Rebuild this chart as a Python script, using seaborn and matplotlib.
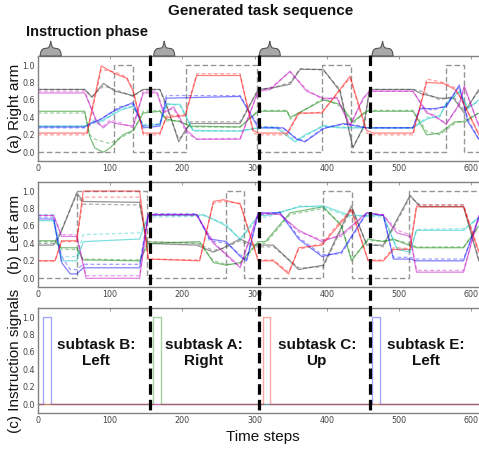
import numpy as np
import matplotlib
matplotlib.use("Agg")
import matplotlib.pyplot as plt
from matplotlib.path import Path
from matplotlib.patches import PathPatch
from matplotlib.transforms import Affine2D, blended_transform_factory
import seaborn as sns

# ---------------- data ----------------
# Panel (a) right arm: solid = output, dashed = target (same x keypoints)
K_A_X = [0, 65, 75, 91, 107, 132, 146, 169, 178, 195, 204, 211, 280, 305, 326, 349, 363, 395, 418, 436, 451, 459, 519, 531, 556, 575, 590, 610]
K_A_Y = [0.72, 0.72, 0.63, 0.79, 0.70, 0.65, 0.72, 0.72, 0.55, 0.12, 0.25, 0.33, 0.33, 0.72, 0.74, 0.78, 0.95, 0.95, 0.70, 0.05, 0.30, 0.72, 0.72, 0.67, 0.62, 0.62, 0.45, 0.72]
K_A_YT = [0.72, 0.72, 0.64, 0.76, 0.72, 0.64, 0.72, 0.72, 0.52, 0.15, 0.22, 0.35, 0.35, 0.72, 0.74, 0.80, 0.96, 0.94, 0.72, 0.06, 0.28, 0.72, 0.72, 0.70, 0.60, 0.64, 0.48, 0.70]

R_A_X = [0, 68, 88, 107, 123, 132, 146, 169, 178, 204, 220, 280, 298, 305, 345, 361, 393, 432, 455, 464, 519, 538, 561, 577, 586, 610]
R_A_Y = [0.22, 0.22, 0.99, 0.90, 0.85, 0.70, 0.22, 0.22, 0.40, 0.42, 0.88, 0.88, 0.25, 0.22, 0.22, 0.45, 0.45, 0.87, 0.25, 0.22, 0.22, 0.80, 0.79, 0.72, 0.62, 0.20]
R_A_YT = [0.20, 0.20, 0.95, 0.92, 0.86, 0.72, 0.20, 0.20, 0.42, 0.43, 0.90, 0.90, 0.22, 0.20, 0.20, 0.44, 0.46, 0.85, 0.22, 0.20, 0.20, 0.84, 0.80, 0.74, 0.60, 0.22]

G_A_X = [0, 65, 72, 79, 91, 100, 118, 132, 146, 169, 178, 197, 211, 280, 305, 345, 349, 395, 418, 436, 455, 519, 538, 556, 577, 591, 610]
G_A_Y = [0.47, 0.47, 0.18, 0.05, 0.0, 0.05, 0.20, 0.25, 0.45, 0.47, 0.38, 0.35, 0.30, 0.29, 0.47, 0.47, 0.40, 0.60, 0.55, 0.35, 0.47, 0.47, 0.20, 0.22, 0.35, 0.35, 0.45]
G_A_YT = [0.45, 0.45, 0.20, 0.15, 0.12, 0.10, 0.18, 0.24, 0.47, 0.48, 0.36, 0.36, 0.29, 0.29, 0.48, 0.48, 0.38, 0.62, 0.53, 0.33, 0.48, 0.48, 0.24, 0.20, 0.33, 0.37, 0.45]

B_A_X = [0, 65, 77, 86, 100, 112, 132, 146, 169, 178, 280, 305, 340, 358, 370, 395, 423, 441, 455, 519, 529, 547, 565, 583, 595, 610]
B_A_Y = [0.29, 0.29, 0.35, 0.37, 0.45, 0.50, 0.57, 0.28, 0.30, 0.62, 0.64, 0.28, 0.28, 0.15, 0.12, 0.27, 0.33, 0.30, 0.28, 0.28, 0.50, 0.50, 0.52, 0.77, 0.35, 0.15]
B_A_YT = [0.28, 0.28, 0.33, 0.38, 0.44, 0.52, 0.55, 0.30, 0.32, 0.65, 0.65, 0.30, 0.27, 0.16, 0.13, 0.28, 0.32, 0.31, 0.28, 0.28, 0.52, 0.48, 0.54, 0.75, 0.38, 0.15]

C_A_X = [0, 65, 80, 86, 114, 132, 146, 169, 178, 197, 215, 280, 305, 330, 356, 370, 395, 418, 455, 519, 538, 556, 565, 583, 595, 610]
C_A_Y = [0.30, 0.30, 0.35, 0.35, 0.48, 0.53, 0.30, 0.32, 0.55, 0.55, 0.25, 0.24, 0.28, 0.28, 0.12, 0.20, 0.30, 0.28, 0.28, 0.28, 0.38, 0.42, 0.55, 0.70, 0.50, 0.60]
C_A_YT = [0.30, 0.30, 0.38, 0.33, 0.50, 0.52, 0.32, 0.33, 0.56, 0.53, 0.24, 0.25, 0.28, 0.30, 0.14, 0.18, 0.31, 0.29, 0.28, 0.28, 0.40, 0.40, 0.57, 0.68, 0.52, 0.58]

M_A_X = [0, 65, 82, 91, 100, 114, 132, 146, 165, 174, 188, 206, 220, 280, 305, 322, 349, 372, 395, 414, 432, 450, 459, 519, 538, 547, 565, 583, 590, 610]
M_A_Y = [0.68, 0.68, 0.35, 0.28, 0.35, 0.32, 0.30, 0.68, 0.68, 0.45, 0.52, 0.25, 0.15, 0.15, 0.70, 0.72, 0.93, 0.70, 0.62, 0.62, 0.30, 0.62, 0.70, 0.70, 0.45, 0.43, 0.32, 0.55, 0.76, 0.30]
M_A_YT = [0.70, 0.70, 0.33, 0.30, 0.37, 0.34, 0.28, 0.70, 0.70, 0.47, 0.50, 0.22, 0.15, 0.16, 0.70, 0.74, 0.92, 0.72, 0.60, 0.63, 0.32, 0.60, 0.70, 0.70, 0.47, 0.41, 0.34, 0.53, 0.74, 0.32]

GRIP_A_T = [0, 105, 132, 205, 303, 393, 434, 565, 590, 615]
GRIP_A_S = [0, 1, 0, 1, 0, 1, 0, 1, 0, 0]

# Panel (b) left arm
K_B_X = [0, 22, 31, 54, 63, 141, 151, 220, 243, 257, 280, 298, 326, 361, 395, 434, 455, 478, 515, 529, 589, 610]
K_B_Y = [0.38, 0.38, 0.50, 0.98, 0.88, 0.87, 0.40, 0.38, 0.30, 0.35, 0.45, 0.38, 0.38, 0.10, 0.15, 0.83, 0.38, 0.38, 0.95, 0.82, 0.82, 0.20]
K_B_YT = [0.40, 0.40, 0.52, 0.96, 0.85, 0.84, 0.42, 0.40, 0.32, 0.34, 0.43, 0.36, 0.36, 0.12, 0.13, 0.80, 0.40, 0.36, 0.93, 0.84, 0.84, 0.22]

R_B_X = [0, 24, 33, 54, 63, 141, 153, 224, 243, 257, 280, 305, 326, 347, 361, 393, 434, 457, 478, 492, 515, 524, 589, 610]
R_B_Y = [0.20, 0.20, 0.43, 0.43, 1.00, 1.00, 0.22, 0.20, 0.88, 0.90, 0.85, 0.20, 0.20, 0.05, 0.35, 0.38, 0.78, 0.20, 0.20, 0.33, 0.33, 0.82, 0.82, 0.30]
R_B_YT = [0.20, 0.20, 0.42, 0.42, 0.93, 0.93, 0.22, 0.21, 0.86, 0.88, 0.86, 0.21, 0.21, 0.07, 0.33, 0.40, 0.80, 0.21, 0.21, 0.35, 0.34, 0.84, 0.84, 0.32]

G_B_X = [0, 24, 33, 54, 63, 141, 153, 224, 243, 261, 280, 305, 315, 349, 395, 420, 434, 457, 478, 492, 513, 524, 589, 610]
G_B_Y = [0.43, 0.43, 0.35, 0.35, 0.21, 0.20, 0.40, 0.42, 0.18, 0.15, 0.18, 0.42, 0.42, 0.75, 0.82, 0.60, 0.20, 0.45, 0.42, 0.45, 0.38, 0.35, 0.35, 0.60]
G_B_YT = [0.42, 0.42, 0.33, 0.33, 0.22, 0.21, 0.42, 0.40, 0.20, 0.16, 0.17, 0.40, 0.40, 0.73, 0.80, 0.62, 0.22, 0.43, 0.43, 0.44, 0.40, 0.36, 0.36, 0.58]

B_B_X = [0, 22, 33, 45, 54, 63, 141, 153, 220, 238, 261, 280, 289, 305, 335, 361, 393, 420, 455, 478, 492, 515, 524, 589, 610]
B_B_Y = [0.68, 0.68, 0.18, 0.05, 0.05, 0.12, 0.12, 0.73, 0.73, 0.45, 0.42, 0.25, 0.20, 0.75, 0.75, 0.45, 0.25, 0.30, 0.75, 0.72, 0.22, 0.22, 0.20, 0.20, 0.70]
B_B_YT = [0.70, 0.70, 0.25, 0.10, 0.10, 0.16, 0.16, 0.74, 0.74, 0.43, 0.40, 0.27, 0.22, 0.73, 0.76, 0.47, 0.27, 0.28, 0.74, 0.73, 0.24, 0.24, 0.22, 0.22, 0.68]

C_B_X = [0, 22, 33, 54, 63, 141, 153, 220, 229, 261, 280, 305, 317, 363, 395, 432, 455, 478, 497, 515, 524, 589, 610]
C_B_Y = [0.66, 0.66, 0.20, 0.20, 0.42, 0.45, 0.72, 0.72, 0.73, 0.60, 0.45, 0.72, 0.72, 0.82, 0.83, 0.72, 0.72, 0.72, 0.33, 0.30, 0.55, 0.55, 0.70]
C_B_YT = [0.73, 0.73, 0.25, 0.25, 0.50, 0.52, 0.70, 0.71, 0.72, 0.62, 0.43, 0.70, 0.70, 0.83, 0.81, 0.70, 0.71, 0.70, 0.35, 0.32, 0.56, 0.57, 0.68]

M_B_X = [0, 22, 33, 54, 67, 141, 153, 220, 243, 271, 280, 305, 335, 361, 393, 420, 455, 478, 497, 515, 524, 589, 610]
M_B_Y = [0.72, 0.72, 0.48, 0.48, 0.00, 0.00, 0.73, 0.73, 0.40, 0.20, 0.12, 0.75, 0.73, 0.55, 0.42, 0.50, 0.75, 0.72, 0.52, 0.48, 0.07, 0.07, 0.72]
M_B_YT = [0.72, 0.72, 0.50, 0.50, 0.03, 0.03, 0.72, 0.72, 0.42, 0.18, 0.14, 0.73, 0.74, 0.53, 0.44, 0.48, 0.74, 0.73, 0.55, 0.50, 0.09, 0.09, 0.70]

GRIP_B_T = [0, 54, 151, 260, 285, 395, 435, 513, 615]
GRIP_B_S = [0, 1, 0, 1, 0, 1, 0, 1, 1]

# Panel (c) instruction signals (step functions)
SIG_LEFT_T = [0, 8, 18, 463, 473, 615]
SIG_LEFT_V = [0, 1, 0, 1, 0, 0]
SIG_RIGHT_T = [0, 159, 170, 615]
SIG_RIGHT_V = [0, 1, 0, 0]
SIG_UP_T = [0, 311, 321, 615]
SIG_UP_V = [0, 1, 0, 0]

SUBTASK_LABELS = ["subtask B:\nLeft", "subtask A:\nRight", "subtask C:\nUp", "subtask E:\nLeft"]
SUBTASK_X = [81, 230, 386, 537]
BOUNDARIES = [155, 306, 459]
PHASE_MARKS = [18, 175, 321, 477]

X_TICKS = [0, 100, 200, 300, 400, 500, 600]
Y_TICKS = [0.0, 0.2, 0.4, 0.6, 0.8, 1.0]
PANEL_LABELS = ["(a) Right arm", "(b) Left arm", "(c) Instruction signals"]

# ---------------- styling ----------------
sns.set_style("white")
plt.rcParams["font.family"] = ["DejaVu Sans"]
LABEL_FONT = ["Liberation Sans", "DejaVu Sans"]

COL = {"b": (0.0, 0.0, 1.0), "g": (0.0, 0.5, 0.0), "r": (1.0, 0.0, 0.0),
       "c": (0.0, 0.75, 0.75), "m": (0.75, 0.0, 0.75), "k": (0.15, 0.15, 0.15)}

W, H = 479, 453
fig = plt.figure(figsize=(W / 100, H / 100), dpi=100)
left = 37.7 / W
width = 615 * 0.723 / W
axh = 104.7 / H
ax_a = fig.add_axes([left, 1 - 161 / H, width, axh])
ax_b = fig.add_axes([left, 1 - 287 / H, width, axh])
ax_c = fig.add_axes([left, 1 - 413 / H, width, axh])


def style_axes(ax, label):
    ax.set_xlim(0, 615)
    ax.set_ylim(-0.1, 1.1)
    ax.set_xticks(X_TICKS)
    ax.set_yticks(Y_TICKS)
    ax.set_yticklabels([f"{v:.1f}" for v in Y_TICKS])
    ax.tick_params(axis="both", which="both", direction="in", length=2.5, width=0.6,
                   colors="#888888", labelcolor="#444444", labelsize=5.8, pad=2,
                   top=True, right=True)
    for s in ax.spines.values():
        s.set_color("#808080")
        s.set_linewidth(1.0)
    ax.set_xlabel("")
    ax.set_ylabel(label, fontsize=11, family=LABEL_FONT, color="#111111")
    ax.yaxis.set_label_coords(-0.036, 0.5)


def arm_panel(ax, series, grip_t, grip_s):
    sns.lineplot(x=grip_t, y=grip_s, ax=ax, color="#8a8a8a", alpha=0.9, lw=1.0,
                 drawstyle="steps-post", linestyle=(0, (4, 2)), estimator=None, sort=False)
    for key, xs, ys, yt in series:
        sns.lineplot(x=xs, y=yt, ax=ax, color=COL[key], alpha=0.38, lw=0.9,
                     linestyle=(0, (3, 2)), estimator=None, sort=False)
        sns.lineplot(x=xs, y=ys, ax=ax, color=COL[key], alpha=0.5, lw=0.9,
                     estimator=None, sort=False)


arm_panel(ax_a, [("k", K_A_X, K_A_Y, K_A_YT), ("g", G_A_X, G_A_Y, G_A_YT),
                 ("c", C_A_X, C_A_Y, C_A_YT), ("b", B_A_X, B_A_Y, B_A_YT),
                 ("m", M_A_X, M_A_Y, M_A_YT), ("r", R_A_X, R_A_Y, R_A_YT)],
          GRIP_A_T, GRIP_A_S)
arm_panel(ax_b, [("k", K_B_X, K_B_Y, K_B_YT), ("g", G_B_X, G_B_Y, G_B_YT),
                 ("c", C_B_X, C_B_Y, C_B_YT), ("b", B_B_X, B_B_Y, B_B_YT),
                 ("m", M_B_X, M_B_Y, M_B_YT), ("r", R_B_X, R_B_Y, R_B_YT)],
          GRIP_B_T, GRIP_B_S)

for t, v, key in [(SIG_LEFT_T, SIG_LEFT_V, "b"), (SIG_RIGHT_T, SIG_RIGHT_V, "g"),
                  (SIG_UP_T, SIG_UP_V, "r")]:
    sns.lineplot(x=t, y=v, ax=ax_c, color=COL[key], alpha=0.35, lw=1.0,
                 drawstyle="steps-post", estimator=None, sort=False)

for ax, lab in zip([ax_a, ax_b, ax_c], PANEL_LABELS):
    style_axes(ax, lab)

for lab, x in zip(SUBTASK_LABELS, SUBTASK_X):
    ax_c.text(x, 0.59, lab, ha="center", va="center", fontsize=11,
              fontweight="bold", family=LABEL_FONT, linespacing=1.22, color="#111111")

# thick dashed boundaries across all panels
trans = blended_transform_factory(ax_a.transData, fig.transFigure)
for bx in BOUNDARIES:
    fig.add_artist(plt.Line2D([bx, bx], [1 - 55 / H, 1 - 413 / H], transform=trans,
                              color="black", lw=2.3, linestyle=(0, (3.3, 1.6)), zorder=10))

# instruction phase brace markers
verts = [(-10.5, 0), (-10.5, 4), (-9, 7.5), (-6, 7.5),
         (-3, 8), (-1, 8.5), (-0.5, 12), (0, 15),
         (0.5, 12), (1, 8.5), (3, 8),
         (6, 7.5), (9, 7.5), (10.5, 4), (10.5, 0), (-10.5, 0)]
codes = [Path.MOVETO, Path.CURVE4, Path.CURVE4, Path.CURVE4,
         Path.LINETO, Path.CURVE4, Path.CURVE4, Path.CURVE4,
         Path.CURVE4, Path.CURVE4, Path.CURVE4,
         Path.LINETO, Path.CURVE4, Path.CURVE4, Path.CURVE4, Path.CLOSEPOLY]
brace = Path(verts, codes)
fig.canvas.draw()
base_y = H - 56
for px in PHASE_MARKS:
    cx = ax_a.transData.transform((px, 0))[0]
    patch = PathPatch(brace, facecolor="#a8a8a8", edgecolor="#555555", lw=0.8,
                      transform=Affine2D().translate(cx, base_y), zorder=5)
    fig.add_artist(patch)

fig.text(261 / W, 1 - 11 / H, "Generated task sequence", ha="center", va="center",
         fontsize=11, fontweight="bold", family=LABEL_FONT, color="#111111")
fig.text(87.5 / W, 1 - 32 / H, "Instruction phase", ha="center", va="center",
         fontsize=10.5, fontweight="bold", family=LABEL_FONT, color="#111111")
fig.text(263 / W, 1 - 437 / H, "Time steps", ha="center", va="center",
         fontsize=11, family=LABEL_FONT, color="#111111")

fig.savefig("out.png", dpi=100)
